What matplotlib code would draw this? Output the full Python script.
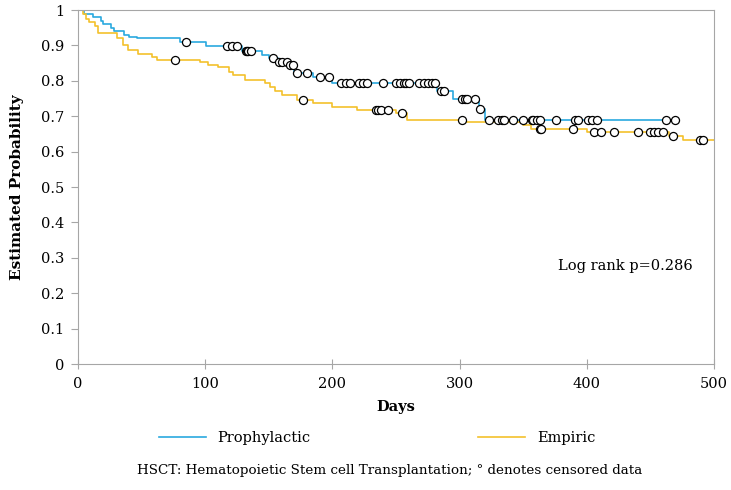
import numpy as np
import matplotlib.pyplot as plt
from matplotlib.ticker import FuncFormatter

plt.rcParams['font.family'] = ['DejaVu Serif']

# Kaplan-Meier steps (day, estimated probability after the event)
proph_days = [0, 5, 12, 18, 20, 26, 28, 36, 40, 46, 80, 101, 129, 145, 150, 157,
              166, 170, 185, 200, 282, 295, 315, 320]
proph_prob = [1.0, 0.99, 0.98, 0.97, 0.96, 0.95, 0.94, 0.93, 0.925, 0.92, 0.91,
              0.897, 0.884, 0.873, 0.865, 0.853, 0.845, 0.822, 0.81, 0.793, 0.772,
              0.748, 0.72, 0.69]
proph_end = 470
proph_censored = [85, 117, 121, 125, 132, 133, 134, 136, 153, 158, 160, 164, 167, 169,
                  172, 180, 190, 197, 207, 211, 214, 221, 224, 227, 240, 250, 253, 256,
                  258, 260, 268, 272, 275, 278, 281, 285, 288, 302, 304, 306, 312, 316,
                  323, 330, 333, 335, 342, 350, 357, 358, 361, 363, 376, 391, 393, 401,
                  404, 408, 462, 469]

emp_days = [0, 4, 6, 9, 13, 16, 31, 35, 39, 47, 58, 62, 96, 102, 110, 119, 122, 131,
            147, 151, 155, 160, 172, 185, 200, 219, 250, 259, 305, 350, 356, 400, 465, 476]
emp_prob = [1.0, 0.99, 0.975, 0.965, 0.955, 0.935, 0.92, 0.9, 0.887, 0.876, 0.868, 0.86,
            0.853, 0.846, 0.838, 0.826, 0.815, 0.802, 0.793, 0.783, 0.77, 0.76, 0.747,
            0.737, 0.726, 0.717, 0.709, 0.69, 0.684, 0.675, 0.665, 0.656, 0.645, 0.634]
emp_end = 500
emp_censored = [76, 177, 234, 236, 238, 244, 255, 302, 363, 364, 389, 406, 411, 421,
                440, 450, 453, 456, 460, 468, 489, 491]

blue = '#2AA9DF'
gold = '#F3C12C'


def surv_at(days, prob, t):
    # value of the step function at time t
    idx = np.searchsorted(days, t, side='right') - 1
    return np.array(prob)[idx]


fig = plt.figure(figsize=(7.31, 4.9), dpi=100)
ax = fig.add_axes([78 / 731, 1 - 364 / 490, 636 / 731, 354 / 490])

ax.step(proph_days + [proph_end], proph_prob + [proph_prob[-1]], where='post',
        color=blue, lw=1.2, label='Prophylactic')
ax.step(emp_days + [emp_end], emp_prob + [emp_prob[-1]], where='post',
        color=gold, lw=1.2, label='Empiric')

ax.plot(proph_censored, surv_at(proph_days, proph_prob, proph_censored), 'o',
        mfc='white', mec='black', mew=0.9, ms=5.8, zorder=3)
ax.plot(emp_censored, surv_at(emp_days, emp_prob, emp_censored), 'o',
        mfc='white', mec='black', mew=0.9, ms=5.8, zorder=3)

ax.set_xlim(0, 500)
ax.set_ylim(0, 1)
ax.set_xticks(np.arange(0, 501, 100))
ax.set_yticks(np.arange(0, 1.01, 0.1))
ax.yaxis.set_major_formatter(FuncFormatter(lambda v, p: '%g' % round(v, 1)))
for s in ax.spines.values():
    s.set_color('#A6A6A6')
ax.tick_params(axis='x', direction='inout', length=7, color='#A6A6A6', labelsize=10.5, pad=6)
ax.tick_params(axis='y', direction='out', length=5, color='#A6A6A6', labelsize=10.5, pad=5)

ax.set_xlabel('Days', fontweight='bold', fontsize=10.5, labelpad=6)
ax.set_ylabel('Estimated Probability', fontweight='bold', fontsize=11, labelpad=12)
ax.text(377, 0.277, 'Log rank p=0.286', fontsize=10.5, va='center')

fig.legend(loc='center', bbox_to_anchor=(0.516, 1 - 438 / 490), ncol=2, frameon=False,
           fontsize=10.5, handlelength=3.2, columnspacing=11.5, handletextpad=0.8)
fig.text(0.533, 1 - 470 / 490, 'HSCT: Hematopoietic Stem cell Transplantation; ° denotes censored data',
         ha='center', va='center', fontsize=9.7)

fig.savefig('out.png', dpi=100)
